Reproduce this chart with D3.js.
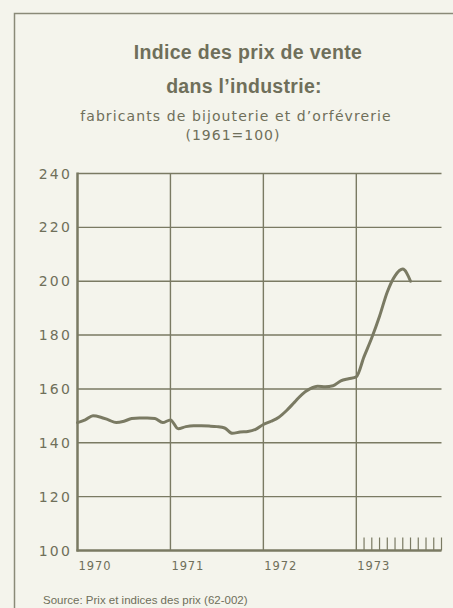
<!DOCTYPE html>
<html>
<head>
<meta charset="utf-8">
<script src="https://cdn.jsdelivr.net/npm/d3@7"></script>
<style>
  html, body { margin: 0; padding: 0; background: #f4f4ec; }
  svg { display: block; }
</style>
</head>
<body>
<svg id="chart" width="453" height="608"></svg>
<script>
// monthly index values, month 0 = January 1970
const months = d3.range(44)
const values = [
  147.5, 148.5, 150, 149.5, 148.5, 147.5, 148, 149, 149.2, 149.2, 149, 147.5,
  148.5, 145.2, 146, 146.3, 146.3, 146.2, 146, 145.5, 143.5, 144, 144.2, 145,
  146.8, 148, 149.5, 152, 155, 158, 160, 161, 160.8, 161.2, 163, 163.8,
  164.5, 172, 179, 187, 196, 202, 204.5, 200
]
const yTicks = [100, 120, 140, 160, 180, 200, 220, 240]
const yearTicks = [0, 12, 24, 36]
const yearLabels = ["1970", "1971", "1972", "1973"]
const monthTicks = d3.range(37, 48)

const ink = "#7a7a63"
const textInk = "#6f6f5a"

const svg = d3.select("#chart")

// frame
svg.append("path")
  .attr("d", "M14.5,608 V13.5 H453")
  .attr("fill", "none")
  .attr("stroke", "#8a8a78")
  .attr("stroke-width", 1.5)

const x = d3.scaleLinear().domain([0, 47]).range([77.5, 441.5])
const y = d3.scaleLinear().domain([100, 240]).range([550.5, 173.5])

// titles
const title = svg.append("g").attr("fill", textInk)
  .attr("text-anchor", "middle")
title.append("text").attr("x", 248).attr("y", 59)
  .attr("font-family", "'Liberation Sans', Arial, sans-serif")
  .attr("font-size", 19.5).attr("font-weight", "bold").attr("letter-spacing", 0.3)
  .text("Indice des prix de vente")
title.append("text").attr("x", 244).attr("y", 93)
  .attr("font-family", "'Liberation Sans', Arial, sans-serif")
  .attr("font-size", 19.5).attr("font-weight", "bold").attr("letter-spacing", 0.3)
  .text("dans l’industrie:")
title.append("text").attr("x", 236).attr("y", 121)
  .attr("font-family", "'DejaVu Sans', sans-serif")
  .attr("font-size", 14).attr("letter-spacing", 1.1)
  .text("fabricants de bijouterie et d’orfévrerie")
title.append("text").attr("x", 233).attr("y", 139.5)
  .attr("font-family", "'DejaVu Sans', sans-serif")
  .attr("font-size", 14).attr("letter-spacing", 1)
  .text("(1961=100)")

// horizontal grid
svg.append("g")
  .selectAll("line")
  .data(yTicks.slice(1))
  .join("line")
  .attr("x1", x(0)).attr("x2", x(47))
  .attr("y1", d => y(d)).attr("y2", d => y(d))
  .attr("stroke", ink).attr("stroke-width", 1.4)

// vertical grid
svg.append("g")
  .selectAll("line")
  .data(yearTicks.slice(1))
  .join("line")
  .attr("x1", d => x(d)).attr("x2", d => x(d))
  .attr("y1", y(240)).attr("y2", y(100))
  .attr("stroke", ink).attr("stroke-width", 1.4)

// month ticks in 1973
svg.append("g")
  .selectAll("line")
  .data(monthTicks)
  .join("line")
  .attr("x1", d => x(d)).attr("x2", d => x(d))
  .attr("y1", y(100) - 13).attr("y2", y(100))
  .attr("stroke", ink).attr("stroke-width", 1.2)

// axes
svg.append("line")
  .attr("x1", x(0)).attr("x2", x(0))
  .attr("y1", y(240) - 1).attr("y2", y(100) + 1)
  .attr("stroke", ink).attr("stroke-width", 2.5)
svg.append("line")
  .attr("x1", x(0) - 1).attr("x2", x(47))
  .attr("y1", y(100)).attr("y2", y(100))
  .attr("stroke", ink).attr("stroke-width", 2.5)

// y labels
svg.append("g")
  .attr("font-family", "'DejaVu Sans', sans-serif")
  .attr("font-size", 14).attr("letter-spacing", 2.2)
  .attr("fill", textInk).attr("text-anchor", "end")
  .selectAll("text")
  .data(yTicks)
  .join("text")
  .attr("x", 72)
  .attr("y", d => y(d) + 5)
  .text(d => d)

// x labels
svg.append("g")
  .attr("font-family", "'DejaVu Sans', sans-serif")
  .attr("font-size", 11.5).attr("letter-spacing", 0.9)
  .attr("fill", textInk)
  .selectAll("text")
  .data(yearTicks)
  .join("text")
  .attr("x", d => x(d) + 1)
  .attr("y", 570)
  .text((d, i) => yearLabels[i])

// series
const line = d3.line()
  .x(d => x(d))
  .y((d, i) => y(values[i]))
  .curve(d3.curveMonotoneX)
svg.append("path")
  .datum(months)
  .attr("d", line)
  .attr("fill", "none")
  .attr("stroke", ink)
  .attr("stroke-width", 3)
  .attr("stroke-linejoin", "round")
  .attr("stroke-linecap", "round")

// source
svg.append("text")
  .attr("x", 43).attr("y", 604)
  .attr("font-family", "'Liberation Sans', Arial, sans-serif")
  .attr("font-size", 11.5)
  .attr("fill", textInk)
  .text("Source: Prix et indices des prix (62-002)")
</script>
</body>
</html>
